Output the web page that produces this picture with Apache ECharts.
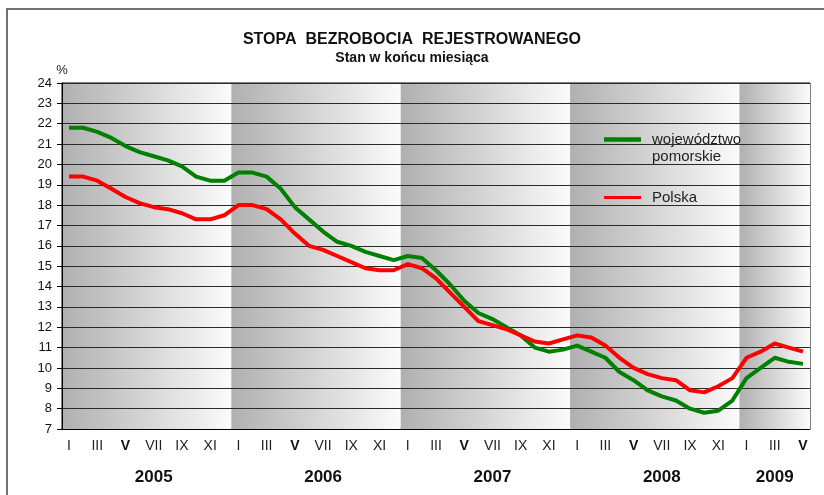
<!DOCTYPE html>
<html>
<head>
    <meta charset="utf-8">
    <title>Stopa bezrobocia rejestrowanego</title>
    <script src="https://cdn.jsdelivr.net/npm/echarts@6/dist/echarts.min.js"></script>
    <style>
        html, body { margin: 0; padding: 0; background: #fff; }
        #chart1 { width: 824px; height: 495px; }
    </style>
</head>
<body>
<div id="chart1"></div>
<script type="text/javascript">
    // dane (stan w końcu miesiąca, %)
    var years = ['2005', '2006', '2007', '2008', '2009'];
    var monthsPerYear = [12, 12, 12, 12, 5];
    var romans = ['I', 'II', 'III', 'IV', 'V', 'VI', 'VII', 'VIII', 'IX', 'X', 'XI', 'XII'];
    var pomorskie = [
        21.8, 21.8, 21.6, 21.3, 20.9, 20.6, 20.4, 20.2, 19.9, 19.4, 19.2, 19.2,
        19.6, 19.6, 19.4, 18.8, 17.9, 17.3, 16.7, 16.2, 16.0, 15.7, 15.5, 15.3,
        15.5, 15.4, 14.8, 14.1, 13.3, 12.7, 12.4, 12.0, 11.6, 11.0, 10.8, 10.9,
        11.1, 10.8, 10.5, 9.8, 9.4, 8.9, 8.6, 8.4, 8.0, 7.8, 7.9, 8.4,
        9.5, 10.0, 10.5, 10.3, 10.2
    ];
    var polska = [
        19.4, 19.4, 19.2, 18.8, 18.4, 18.1, 17.9, 17.8, 17.6, 17.3, 17.3, 17.5,
        18.0, 18.0, 17.8, 17.3, 16.6, 16.0, 15.8, 15.5, 15.2, 14.9, 14.8, 14.8,
        15.1, 14.9, 14.4, 13.7, 13.0, 12.3, 12.1, 11.9, 11.6, 11.3, 11.2, 11.4,
        11.6, 11.5, 11.1, 10.5, 10.0, 9.7, 9.5, 9.4, 8.9, 8.8, 9.1, 9.5,
        10.5, 10.8, 11.2, 11.0, 10.8
    ];

    var categories = [];
    var yearStart = [];
    var yearMid = [];
    years.forEach(function (y, k) {
        yearStart.push(categories.length);
        yearMid.push(categories.length + Math.floor(monthsPerYear[k] / 2));
        for (var m = 0; m < monthsPerYear[k]; m++) {
            categories.push(romans[m] + ' ' + y);
        }
    });

    var font = "'Liberation Sans', Arial, sans-serif";
    var bands = years.map(function (y, k) {
        return [{xAxis: yearStart[k]}, {xAxis: yearStart[k] + monthsPerYear[k]}];
    });

    var myChart1 = echarts.init(document.getElementById('chart1'));
    myChart1.setOption({
        animation: false,
        textStyle: {fontFamily: font, color: '#111'},
        graphic: [{
            type: 'rect',
            shape: {x: 7, y: 9, width: 830, height: 500},
            style: {fill: 'none', stroke: '#444', lineWidth: 1.5},
            silent: true
        }],
        title: {
            text: 'STOPA  BEZROBOCIA  REJESTROWANEGO',
            subtext: 'Stan w końcu miesiąca',
            left: 'center',
            top: 27,
            padding: [5, 0, 5, 14],
            itemGap: 3,
            textStyle: {fontSize: 16, fontWeight: 'bold', color: '#111', fontFamily: font},
            subtextStyle: {fontSize: 14, fontWeight: 'bold', color: '#111', fontFamily: font}
        },
        legend: [{
            data: ['województwo pomorskie'],
            left: 604,
            top: 114,
            padding: 0,
            icon: 'rect',
            itemWidth: 37,
            itemHeight: 4.5,
            selectedMode: false,
            // pusta pierwsza linia, żeby znacznik stał przy pierwszym wierszu nazwy
            formatter: function () { return ' \nwojewództwo\npomorskie'; },
            textStyle: {fontSize: 15, color: '#222', lineHeight: 17, padding: [0, 0, 0, 6], fontFamily: font}
        }, {
            data: ['Polska'],
            left: 604,
            top: 189,
            padding: 0,
            icon: 'rect',
            itemWidth: 37,
            itemHeight: 3,
            selectedMode: false,
            textStyle: {fontSize: 15, color: '#222', lineHeight: 17, padding: [0, 0, 0, 6], fontFamily: font}
        }],
        grid: {
            left: 62, top: 83, right: 14, bottom: 66,
            show: true, borderColor: '#000', borderWidth: 1, backgroundColor: 'transparent'
        },
        xAxis: [{
            type: 'category',
            data: categories,
            boundaryGap: true,
            z: 2,
            axisLine: {lineStyle: {color: '#000'}},
            axisTick: {interval: 0, length: 5, lineStyle: {color: '#000'}},
            axisLabel: {
                interval: 1,
                margin: 10,
                fontSize: 14,
                color: '#222',
                formatter: function (v) {
                    var r = romans[categories.indexOf(v) % 12];
                    return r === 'V' ? '{b|V}' : r;
                },
                rich: {b: {fontWeight: 'bold', fontSize: 14, color: '#111'}}
            },
            splitLine: {show: false}
        }, {
            type: 'category',
            data: categories,
            position: 'bottom',
            offset: 32,
            axisLine: {show: false},
            axisTick: {show: false},
            axisLabel: {
                interval: function (i) { return yearMid.indexOf(i) >= 0; },
                fontSize: 17,
                fontWeight: 'bold',
                color: '#111',
                formatter: function (v) { return v.split(' ')[1]; }
            }
        }, {
            type: 'value',
            min: 0,
            max: categories.length,
            show: false
        }],
        yAxis: {
            type: 'value',
            min: 7,
            max: 24,
            interval: 1,
            z: 2,
            name: '%',
            nameLocation: 'end',
            nameGap: 5,
            nameTextStyle: {fontSize: 13, color: '#222', align: 'center'},
            axisLine: {show: true, lineStyle: {color: '#000'}},
            axisTick: {show: true, length: 5, lineStyle: {color: '#000'}},
            axisLabel: {fontSize: 13, color: '#111', margin: 10},
            splitLine: {lineStyle: {color: '#2a2a2a', width: 1}}
        },
        series: [{
            name: 'tlo',
            type: 'line',
            xAxisIndex: 2,
            data: [],
            z: 0,
            silent: true,
            markArea: {
                silent: true,
                z: 0,
                label: {show: false},
                itemStyle: {
                    color: new echarts.graphic.LinearGradient(0, 0, 1, 0, [
                        {offset: 0, color: '#b0b0b0'},
                        {offset: 1, color: '#fbfbfb'}
                    ])
                },
                data: bands
            }
        }, {
            name: 'województwo pomorskie',
            type: 'line',
            data: pomorskie,
            showSymbol: false,
            symbol: 'none',
            color: '#008000',
            lineStyle: {color: '#008000', width: 4, join: 'round'},
            z: 3
        }, {
            name: 'Polska',
            type: 'line',
            data: polska,
            showSymbol: false,
            symbol: 'none',
            color: '#ff0000',
            lineStyle: {color: '#ff0000', width: 4, join: 'round'},
            z: 4
        }]
    });
</script>
</body>
</html>
